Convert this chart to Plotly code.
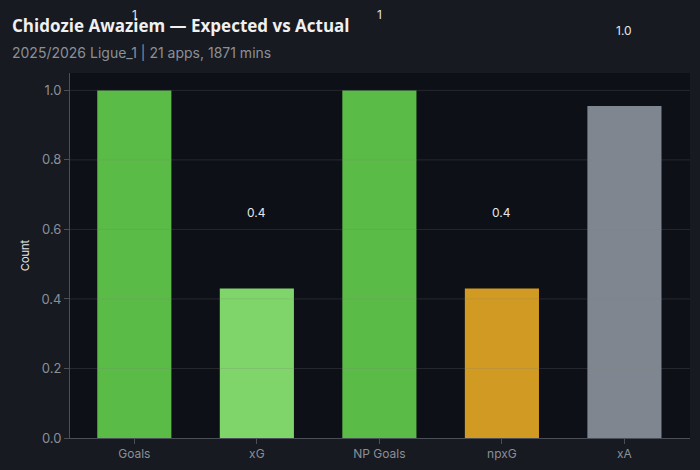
import plotly.graph_objects as go

categories = ["Goals", "xG", "NP Goals", "npxG", "xA"]
values = [1, 0.43, 1, 0.43, 0.955]
labels = ["1", "0.4", "1", "0.4", "1.0"]
colors = ["#5bbb47", "#7fd46a", "#5bbb47", "#d19a22", "#80868f"]
y_ticks = [0.0, 0.2, 0.4, 0.6, 0.8, 1.0]

title = "Chidozie Awaziem — Expected vs Actual"
subtitle = "2025/2026 Ligue_1 | 21 apps, 1871 mins"

fig = go.Figure(go.Bar(x=categories, y=values, marker=dict(color=colors, line=dict(width=0)),
                       hoverinfo="x+y"))

for c, v, t in zip(categories, values, labels):
    fig.add_annotation(x=c, y=v, xref="x", yref="y", text=t, showarrow=False,
                       yshift=76, font=dict(family="Inter", size=12, color="#e6e6e6"))

for t in y_ticks[1:]:
    fig.add_shape(type="line", xref="paper", yref="y", x0=0, x1=1, y0=t, y1=t,
                  line=dict(color="rgba(128,128,128,0.22)", width=1), layer="above")

fig.add_annotation(xref="paper", yref="paper", x=-60/620, y=1.129, xanchor="left", yanchor="middle",
                   text="<b>" + title + "</b>", showarrow=False,
                   font=dict(family="Open Sans", size=17, weight=800, color="#f0f0f0"))
fig.add_annotation(xref="paper", yref="paper", x=-60/620, y=1.055, xanchor="left", yanchor="middle",
                   text=subtitle, showarrow=False,
                   font=dict(family="Inter", size=14, color="#8b8f97"))

fig.update_layout(
    width=700, height=470,
    margin=dict(l=70, r=10, t=73, b=32),
    paper_bgcolor="#171a21",
    plot_bgcolor="#0d1017",
    bargap=0.395,
    showlegend=False,
    font=dict(family="Inter", color="#8b8f97"),
    xaxis=dict(showgrid=False, showline=True, linecolor="#4a4f57", linewidth=1,
               range=[-0.525, 4.535],
               ticks="outside", ticklen=5, tickcolor="#4a4f57",
               tickfont=dict(family="Inter", size=12, color="#8b8f97")),
    yaxis=dict(range=[0, 1.05], tickvals=y_ticks, tickformat=".1f", showgrid=False,
               showline=True, linecolor="#4a4f57", linewidth=1, zeroline=False,
               ticks="outside", ticklen=5, tickcolor="#4a4f57",
               tickfont=dict(family="Inter", size=13, color="#8b8f97"),
               title=dict(text="Count", font=dict(family="Inter", size=11, color="#e6e6e6"), standoff=9)),
)

fig.write_html("out.html", config={"displayModeBar": False},
               post_script="document.body.style.margin='0';document.body.style.overflow='hidden';")
